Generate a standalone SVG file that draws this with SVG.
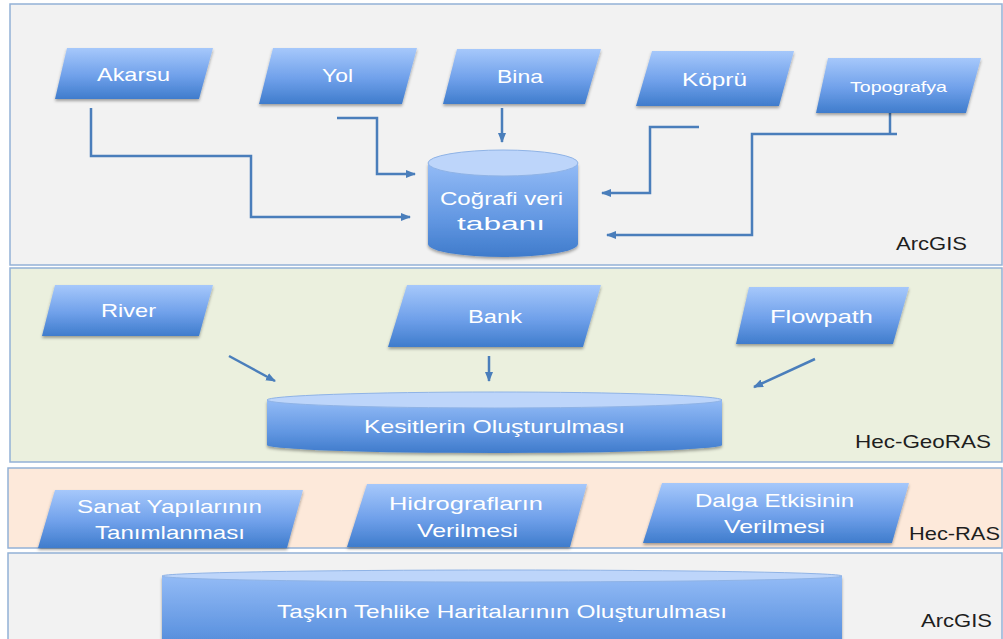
<svg xmlns="http://www.w3.org/2000/svg" width="1003" height="639" viewBox="0 0 1003 639">
<defs>
<linearGradient id="pg" x1="0" y1="0" x2="0" y2="1">
<stop offset="0" stop-color="#a6c8fb"/>
<stop offset="0.55" stop-color="#6fa0ea"/>
<stop offset="1" stop-color="#3f7ccc"/>
</linearGradient>
<linearGradient id="cg" x1="0" y1="0" x2="0" y2="1">
<stop offset="0" stop-color="#93bbf6"/>
<stop offset="0.6" stop-color="#6297e2"/>
<stop offset="1" stop-color="#3f7bcb"/>
</linearGradient>
<filter id="sh" x="-10%" y="-10%" width="120%" height="140%">
<feDropShadow dx="0" dy="2" stdDeviation="1.5" flood-color="#000" flood-opacity="0.35"/>
</filter>
<marker id="ah" markerUnits="userSpaceOnUse" markerWidth="11" markerHeight="10" refX="9" refY="5" orient="auto">
<path d="M0,1 L10,5 L0,9 Z" fill="#4a7ebb"/>
</marker>
<style>
.band{stroke:#93b1d6;stroke-width:1.5}
.para{fill:url(#pg);filter:url(#sh)}
.cyl{fill:url(#cg);filter:url(#sh)}
.ctop{fill:#bdd5fa;stroke:#8fb3e6;stroke-width:1}
.nt{font-family:"Liberation Sans",Arial,sans-serif;font-size:19px;fill:#ffffff;text-anchor:middle}
.lb{font-family:"Liberation Sans",Arial,sans-serif;font-size:19px;fill:#1e1e1e;text-anchor:middle}
.cn{fill:none;stroke:#4a7ebb;stroke-width:2.5}
</style>
</defs>

<g id="bands">
<rect class="band" x="10" y="4" width="992" height="261" fill="#f2f2f2"/>
<rect class="band" x="10" y="268" width="992" height="194" fill="#ebf0de"/>
<rect class="band" x="8" y="468" width="994" height="80" fill="#fde9da"/>
<rect class="band" x="8" y="553" width="994" height="100" fill="#f2f2f2"/>
</g>

<g id="layer-labels">
<text class="lb" x="931.5" y="250" textLength="71" lengthAdjust="spacingAndGlyphs">ArcGIS</text>
<text class="lb" x="923" y="448" textLength="136" lengthAdjust="spacingAndGlyphs">Hec-GeoRAS</text>
<text class="lb" x="954.5" y="540" textLength="91" lengthAdjust="spacingAndGlyphs">Hec-RAS</text>
<text class="lb" x="956.5" y="627" textLength="71" lengthAdjust="spacingAndGlyphs">ArcGIS</text>
</g>

<g id="connectors">
<polyline class="cn" points="91,108 91,156 251,156 251,217 410,217" marker-end="url(#ah)"/>
<polyline class="cn" points="337,118 377,118 377,174 415,174" marker-end="url(#ah)"/>
<polyline class="cn" points="502,108 502,142" marker-end="url(#ah)"/>
<polyline class="cn" points="699,127 650,127 650,193 602,193" marker-end="url(#ah)"/>
<polyline class="cn" points="890,113 890,134"/>
<polyline class="cn" points="897,134 752,134 752,235 607,235" marker-end="url(#ah)"/>
<line class="cn" x1="229" y1="356" x2="275" y2="381" marker-end="url(#ah)"/>
<line class="cn" x1="489" y1="356" x2="489" y2="381" marker-end="url(#ah)"/>
<line class="cn" x1="815" y1="359" x2="754" y2="387" marker-end="url(#ah)"/>
</g>

<g id="akarsu">
<polygon class="para" points="67,48 213,48 199,99 55,99"/>
<text class="nt" x="133.5" y="81" textLength="73" lengthAdjust="spacingAndGlyphs">Akarsu</text>
</g>
<g id="yol">
<polygon class="para" points="273,48 417,48 402,104 259,104"/>
<text class="nt" x="337.5" y="82" textLength="31" lengthAdjust="spacingAndGlyphs">Yol</text>
</g>
<g id="bina">
<polygon class="para" points="457,49 601,49 585,104 443,104"/>
<text class="nt" x="520" y="83" textLength="46" lengthAdjust="spacingAndGlyphs">Bina</text>
</g>
<g id="kopru">
<polygon class="para" points="652,51 794,51 779,106 636,106"/>
<text class="nt" x="714.5" y="86" textLength="65" lengthAdjust="spacingAndGlyphs">Köprü</text>
</g>
<g id="topografya">
<polygon class="para" points="828,58 981,58 966,113 816,113"/>
<text class="nt" x="898.5" y="92" style="font-size:15px" textLength="97" lengthAdjust="spacingAndGlyphs">Topografya</text>
</g>

<g id="cografi-veri-tabani">
<path class="cyl" d="M428,163 L428,244 A75,13 0 0 0 578,244 L578,163 Z"/>
<ellipse class="ctop" cx="503" cy="163" rx="75" ry="13"/>
<text class="nt" x="501.5" y="205" textLength="123" lengthAdjust="spacingAndGlyphs">Coğrafi veri</text>
<text class="nt" x="501" y="230" textLength="88" lengthAdjust="spacingAndGlyphs">tabanı</text>
</g>

<g id="river">
<polygon class="para" points="55,285 213,285 199,336 42,336"/>
<text class="nt" x="128.5" y="317" textLength="55" lengthAdjust="spacingAndGlyphs">River</text>
</g>
<g id="bank">
<polygon class="para" points="407,285 601,285 583,347 388,347"/>
<text class="nt" x="495" y="323" textLength="54" lengthAdjust="spacingAndGlyphs">Bank</text>
</g>
<g id="flowpath">
<polygon class="para" points="749,287 909,287 893,344 736,344"/>
<text class="nt" x="821.5" y="323" textLength="103" lengthAdjust="spacingAndGlyphs">Flowpath</text>
</g>

<g id="kesitlerin-olusturulmasi">
<path class="cyl" d="M267,400 L267,445 A227.5,8 0 0 0 722,445 L722,400 Z"/>
<ellipse class="ctop" cx="494.5" cy="400" rx="227.5" ry="8"/>
<text class="nt" x="494.5" y="433" textLength="261" lengthAdjust="spacingAndGlyphs">Kesitlerin Oluşturulması</text>
</g>

<g id="sanat-yapilari">
<polygon class="para" points="55,490 303,490 287,548 38,548"/>
<text class="nt" x="169.5" y="513" textLength="185" lengthAdjust="spacingAndGlyphs">Sanat Yapılarının</text>
<text class="nt" x="170" y="539" textLength="150" lengthAdjust="spacingAndGlyphs">Tanımlanması</text>
</g>
<g id="hidrograflar">
<polygon class="para" points="367,484 587,484 570,547 347,547"/>
<text class="nt" x="466" y="510" textLength="154" lengthAdjust="spacingAndGlyphs">Hidrografların</text>
<text class="nt" x="467.5" y="537" textLength="101" lengthAdjust="spacingAndGlyphs">Verilmesi</text>
</g>
<g id="dalga-etkisi">
<polygon class="para" points="662,483 909,483 892,543 643,543"/>
<text class="nt" x="774.5" y="507" textLength="159" lengthAdjust="spacingAndGlyphs">Dalga Etkisinin</text>
<text class="nt" x="774.5" y="533" textLength="101" lengthAdjust="spacingAndGlyphs">Verilmesi</text>
</g>

<g id="taskin-tehlike-haritalari">
<path class="cyl" d="M162,576 L162,660 A340,6 0 0 0 842,660 L842,576 Z"/>
<ellipse class="ctop" cx="502" cy="576" rx="340" ry="6"/>
<text class="nt" x="502" y="618" textLength="450" lengthAdjust="spacingAndGlyphs">Taşkın Tehlike Haritalarının Oluşturulması</text>
</g>
</svg>
